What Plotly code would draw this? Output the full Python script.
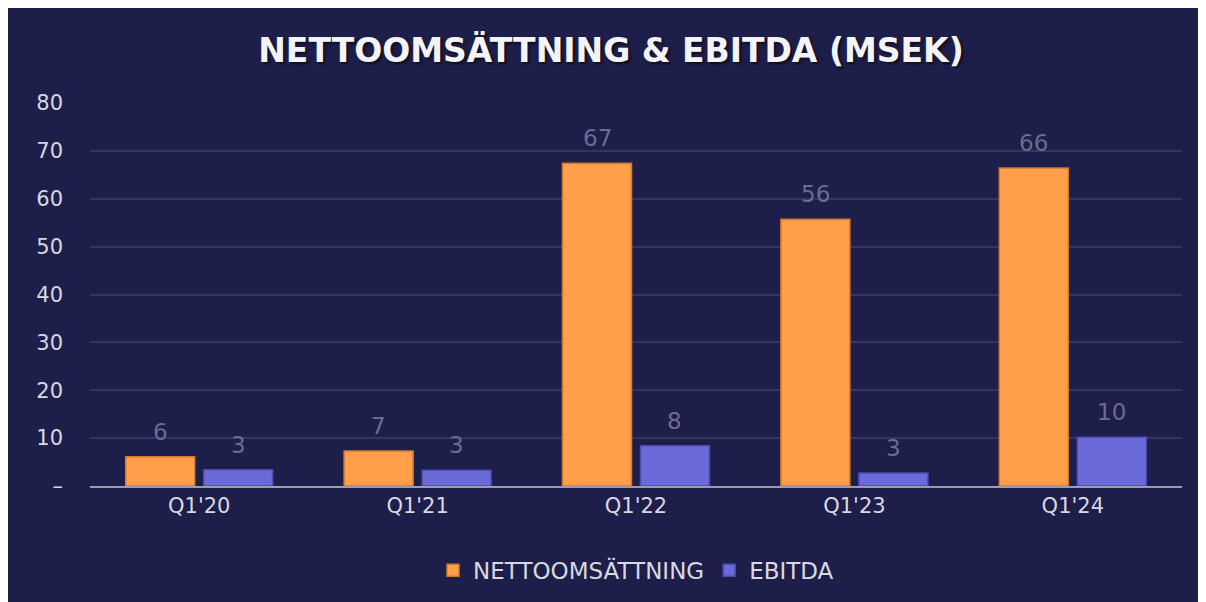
import plotly.graph_objects as go

# Quarterly figures (MSEK)
quarters = ["Q1'20", "Q1'21", "Q1'22", "Q1'23", "Q1'24"]
nettoomsattning = [6.1, 7.3, 67.4, 55.7, 66.4]
ebitda = [3.4, 3.3, 8.4, 2.7, 10.2]

y_ticks = [0, 10, 20, 30, 40, 50, 60, 70, 80]
y_tick_labels = ["–", "10", "20", "30", "40", "50", "60", "70", "80"]

bg = "#1e1e4a"
font_name = "DejaVu Sans, Noto Sans, sans-serif"
label_font = dict(family=font_name, size=23, color="#6c6c8e")

# geometry (page has ~8px body margin, so margins are offset)
m_l, m_r, m_t, m_b = 82, 32, 95, 124
bargap, bargroupgap = 0.286, 0.115
plot_w = 1206 - m_l - m_r
slot = plot_w / len(quarters) * (1 - bargap) / 2

fig = go.Figure()
fig.add_trace(go.Bar(
    x=quarters, y=nettoomsattning, name="NETTOOMSÄTTNING",
    marker=dict(color="#ff9f4a", line=dict(color="#d07a30", width=1.5)),
))
fig.add_trace(go.Bar(
    x=quarters, y=ebitda, name="EBITDA",
    marker=dict(color="#6a6ad8", line=dict(color="#4c4cae", width=1.5)),
))

# value labels above the bars
for vals, shift in [(nettoomsattning, -slot / 2), (ebitda, slot / 2)]:
    for q, v in zip(quarters, vals):
        fig.add_annotation(x=q, y=v, text=f"{v:.0f}", showarrow=False,
                           xshift=shift, yshift=25, yanchor="middle",
                           font=label_font)

fig.update_layout(
    width=1206, height=602,
    paper_bgcolor=bg, plot_bgcolor=bg,
    margin=dict(l=m_l, r=m_r, t=m_t, b=m_b),
    title=dict(text="<b>NETTOOMSÄTTNING &amp; EBITDA (MSEK)</b>", x=0.5, xanchor="center",
               y=1 - 42 / 602, yanchor="middle",
               font=dict(family=font_name, size=33, color="#f4f4f8",
                         shadow="2px 2px 3px rgba(0,0,0,0.6)")),
    barmode="group", bargap=bargap, bargroupgap=bargroupgap,
    font=dict(family=font_name, color="#d8d8e0"),
    showlegend=True,
    legend=dict(orientation="h", x=0.5, xanchor="center", y=-0.22, yanchor="middle",
                font=dict(size=23, color="#d8d8e0"), traceorder="normal"),
)
fig.update_xaxes(
    showline=True, linecolor="#9c9cae", linewidth=2,
    showgrid=False, tickfont=dict(size=21, color="#d8d8e0"), ticks="",
)
fig.update_yaxes(
    range=[0, 80], tickvals=y_ticks, ticktext=y_tick_labels,
    showgrid=True, gridcolor="#35355f", gridwidth=1.5,
    zeroline=False, tickfont=dict(size=21, color="#d8d8e0"),
    ticklabelstandoff=26,
)

fig.write_html("out.html")
